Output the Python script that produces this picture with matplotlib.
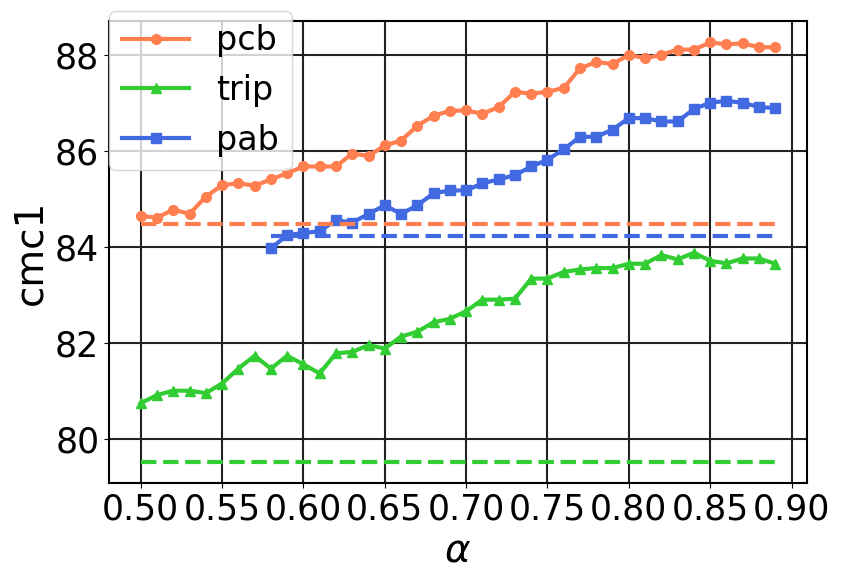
#!/usr/bin/env python3
# -*- coding: utf-8 -*-
"""cmc1 vs alpha for pcb / trip / pab, with dashed baselines."""

import matplotlib

matplotlib.use("Agg")
import matplotlib.pyplot as plt
import numpy as np

# ---------------------------------------------------------------------------
# data
# ---------------------------------------------------------------------------
alpha = np.round(np.arange(0.50, 0.895, 0.01), 2)  # 0.50 ... 0.89
alpha_pab = alpha[8:]  # pab starts at 0.58

pcb = [84.65, 84.61, 84.78, 84.69, 85.05, 85.29, 85.33, 85.28, 85.41, 85.54,
       85.68, 85.68, 85.68, 85.95, 85.90, 86.12, 86.22, 86.53, 86.74, 86.84,
       86.85, 86.78, 86.92, 87.24, 87.20, 87.24, 87.32, 87.73, 87.86, 87.82,
       88.01, 87.94, 88.01, 88.12, 88.12, 88.27, 88.23, 88.25, 88.17, 88.17]

trip = [80.74, 80.91, 81.00, 81.00, 80.95, 81.15, 81.46, 81.73, 81.46, 81.73,
        81.55, 81.36, 81.78, 81.81, 81.95, 81.88, 82.13, 82.23, 82.43, 82.50,
        82.66, 82.90, 82.90, 82.92, 83.34, 83.34, 83.48, 83.53, 83.56, 83.56,
        83.65, 83.65, 83.83, 83.74, 83.88, 83.71, 83.66, 83.76, 83.76, 83.65]

pab = [83.97, 84.25, 84.29, 84.33, 84.56, 84.51, 84.69, 84.87, 84.69, 84.87,
       85.12, 85.18, 85.18, 85.33, 85.41, 85.50, 85.68, 85.82, 86.04, 86.30,
       86.30, 86.45, 86.69, 86.69, 86.62, 86.62, 86.88, 87.01, 87.05, 87.01,
       86.92, 86.90]

# baselines (dashed)
pcb_base = 84.49
trip_base = 79.52
pab_base = 84.22

COLORS = {"pcb": "coral", "trip": "limegreen", "pab": "royalblue"}


def main() -> None:
    fig = plt.figure(figsize=(8.41, 5.8), dpi=100)
    ax = fig.add_axes([0.1296, 0.168, 0.8300, 0.795])

    ax.plot(alpha, pcb, marker="o", markersize=7, linewidth=3,
            color=COLORS["pcb"], label="pcb")
    ax.plot(alpha, trip, marker="^", markersize=7, linewidth=3,
            color=COLORS["trip"], label="trip")
    ax.plot(alpha_pab, pab, marker="s", markersize=7, linewidth=3,
            color=COLORS["pab"], label="pab")

    # baselines
    ax.plot(alpha, [pcb_base] * len(alpha), "--", linewidth=3, color=COLORS["pcb"])
    ax.plot(alpha, [trip_base] * len(alpha), "--", linewidth=3, color=COLORS["trip"])
    ax.plot(alpha_pab, [pab_base] * len(alpha_pab), "--", linewidth=3,
            color=COLORS["pab"])

    ax.set_xticks(np.arange(0.50, 0.91, 0.05))
    ax.set_xticklabels([f"{v:.2f}" for v in np.arange(0.50, 0.91, 0.05)])
    ax.set_yticks([80, 82, 84, 86, 88])
    ax.tick_params(labelsize=25)
    ax.set_xlabel(r"$\alpha$", fontsize=28)
    ax.set_ylabel("cmc1", fontsize=28)
    ax.grid(True, color="#222222", linewidth=1.5)
    for sp in ax.spines.values():
        sp.set_color("black")
        sp.set_linewidth(1.5)

    ax.legend(loc="upper left", bbox_to_anchor=(0.0, 1.023), borderaxespad=0,
              fontsize=24, numpoints=1)

    fig.savefig("out.png", dpi=100)
    plt.close(fig)


if __name__ == "__main__":
    main()
